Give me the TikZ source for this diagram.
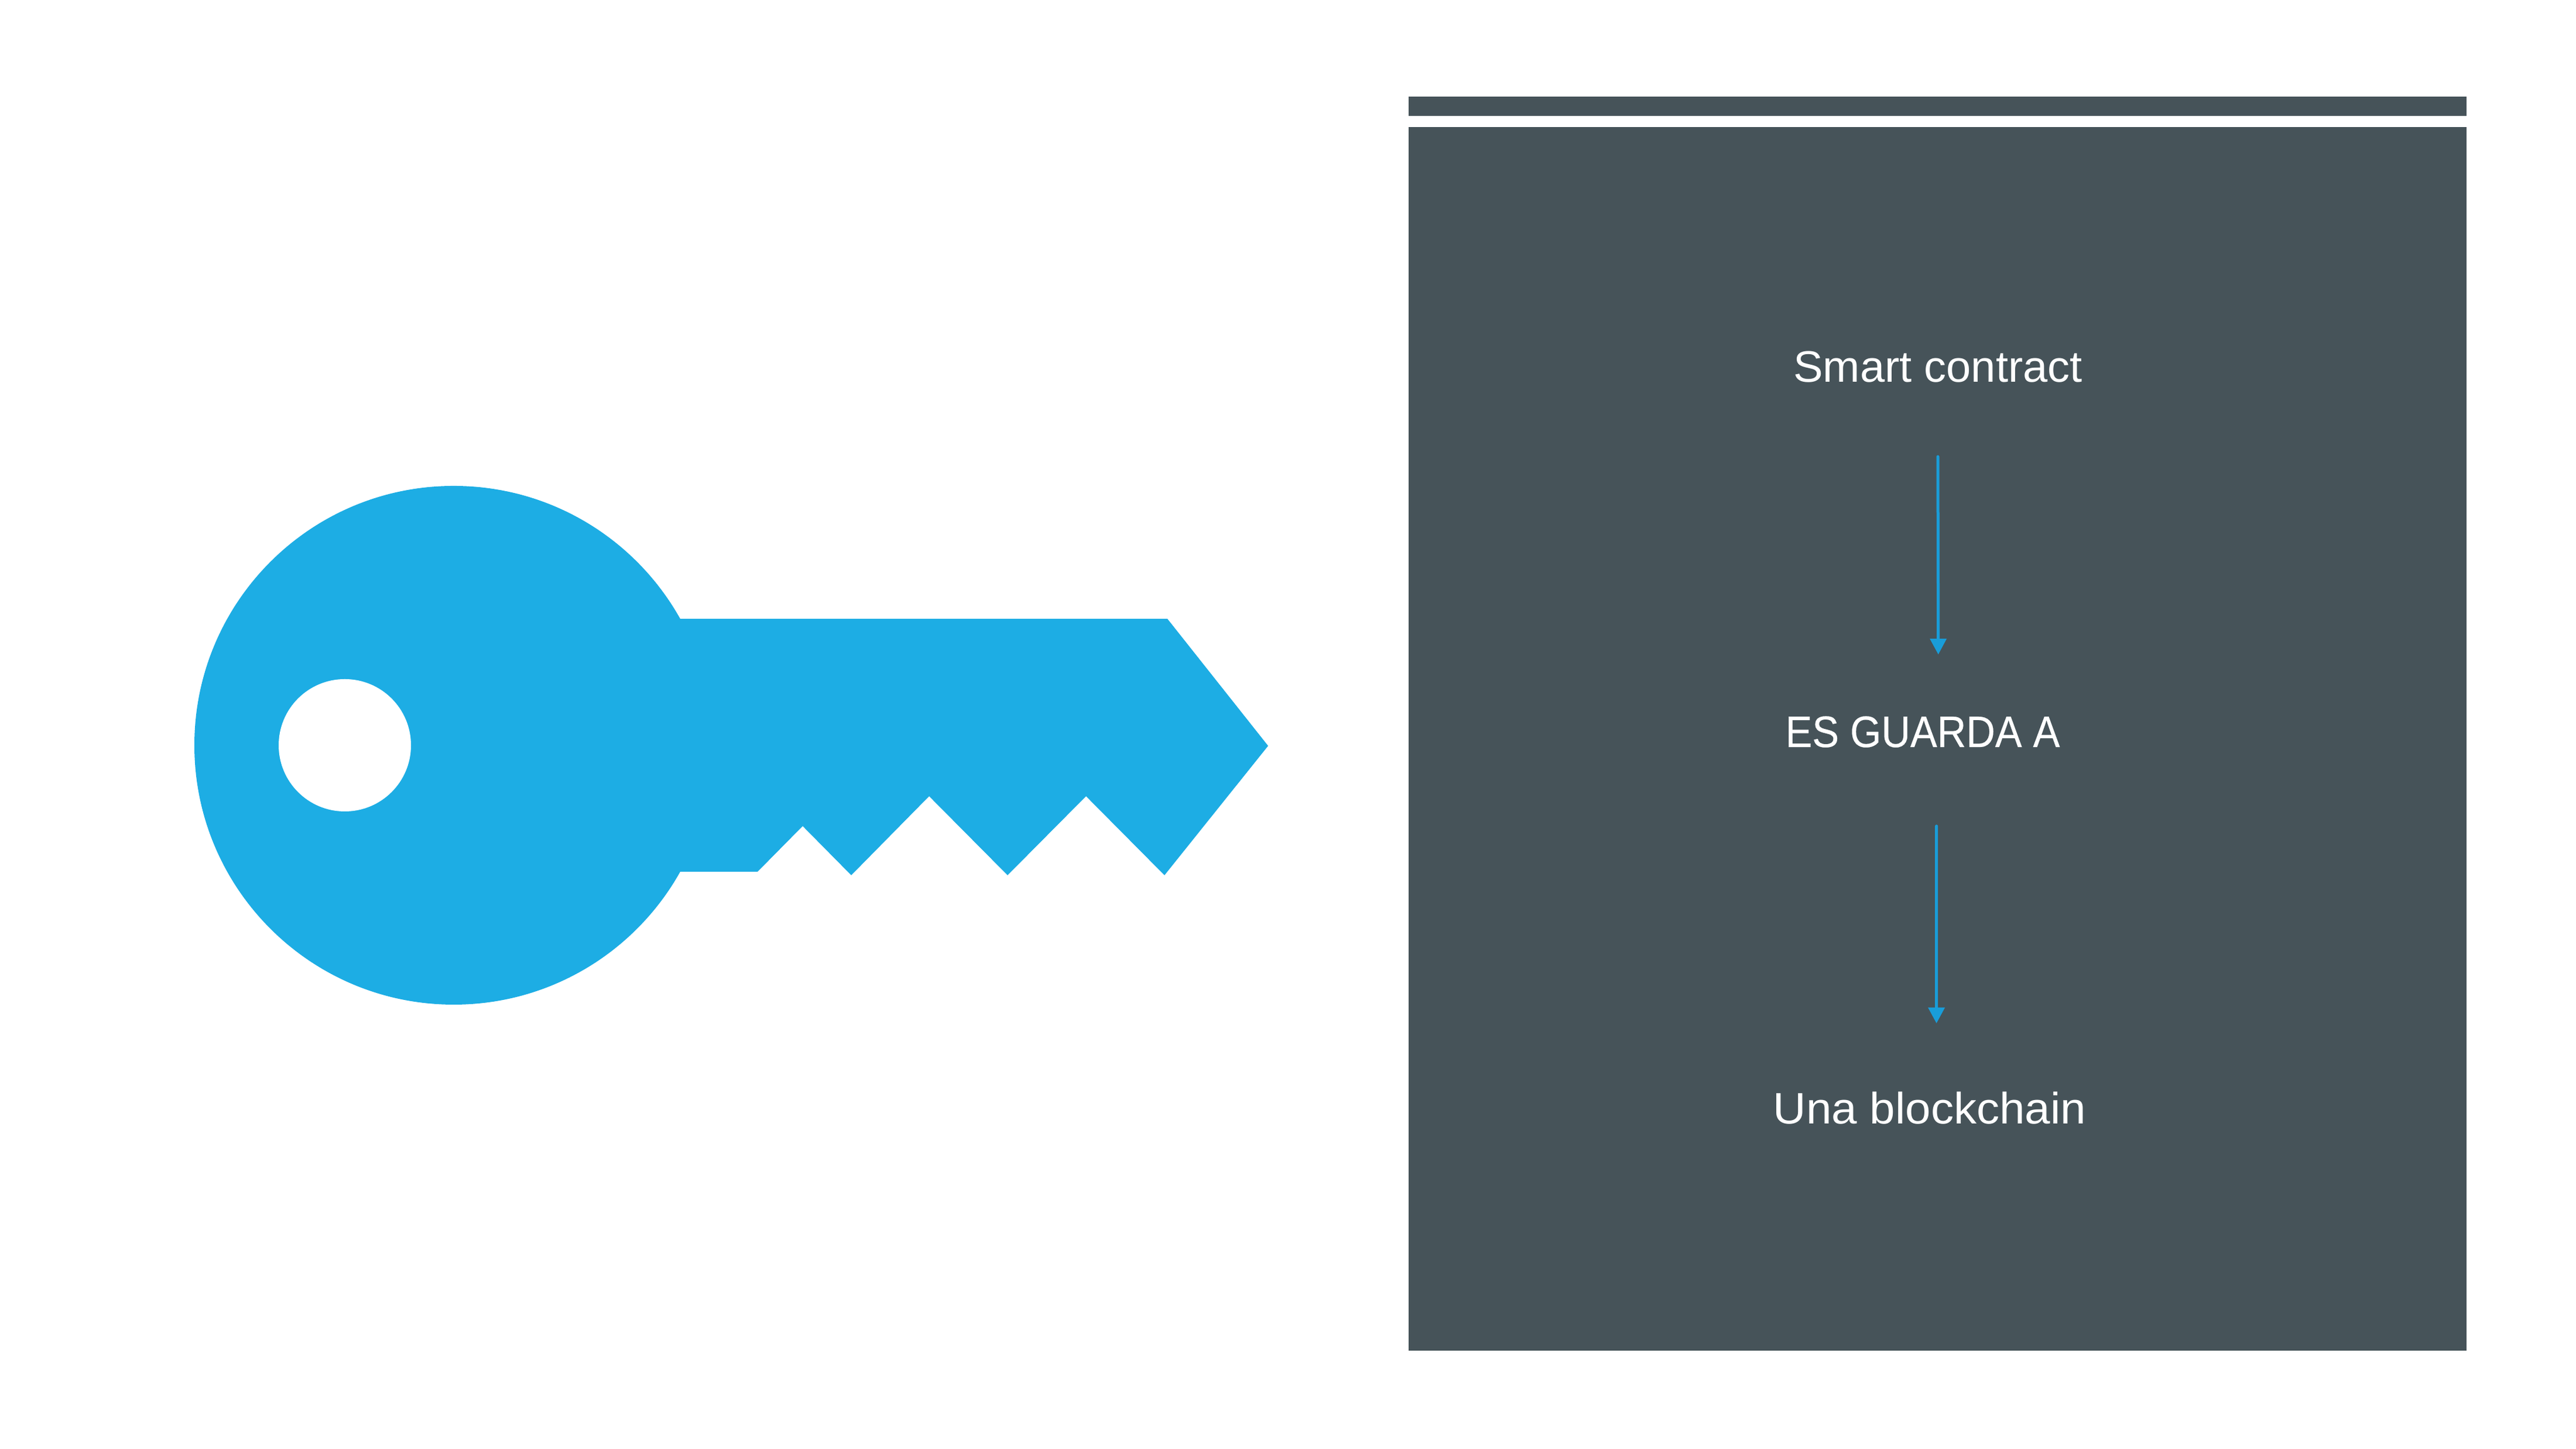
\documentclass[tikz,border=0pt]{standalone}
\usepackage{fontspec}
\setmainfont[FakeStretch=1.01]{Liberation Sans}
\newfontfamily\capsfont[FakeStretch=0.912,FakeBold=0.3]{Liberation Sans}
\newfontfamily\lowerfont[FakeStretch=1.04]{Liberation Sans}
\usepackage{tikz}
\usetikzlibrary{arrows.meta}
\definecolor{keyblue}{RGB}{29,173,228}
\definecolor{flowblue}{RGB}{25,157,217}
\definecolor{panelgray}{RGB}{70,83,89}
\tikzset{
  paneltext/.style={anchor=base, text=white, inner sep=0pt, font=\fontsize{21.4}{26}\selectfont},
  flowline/.style={flowblue, line width=0.05cm, line cap=round, -{Triangle[length=0.27cm, width=0.275cm]}}
}

\begin{document}
\begin{tikzpicture}
\useasboundingbox (0,0) rectangle (44,24.75);
% Key
\fill[keyblue] (7.75,12.02) circle (4.43);
\fill[keyblue] (11.6,14.18) -- (19.94,14.18) -- (21.66,12.01) -- (19.89,9.80) -- (18.55,11.15)
      -- (17.21,9.80) -- (15.87,11.15) -- (14.54,9.80) -- (13.71,10.64) -- (12.94,9.86) -- (11.6,9.86) -- cycle;
\fill[white] (5.89,12.02) circle (1.13);

% Panel
\fill[panelgray] (24.06,23.10) rectangle (42.13,22.77);
\fill[panelgray] (24.06,22.58) rectangle (42.13,1.68);

% Texts
\node[paneltext] (smart) at (33.10,18.22) {Smart contract};
\node[paneltext] (guarda) at (32.84,11.99) {\capsfont ES GUARDA A};
\node[paneltext] (una) at (32.96,5.55) {\lowerfont Una blockchain};

% Arrows
\draw[flowline] ([yshift=-12.7mm]smart.base) -- ([xshift=2.67mm,yshift=15.8mm]guarda.base);
\draw[flowline] ([xshift=2.36mm,yshift=-13.5mm]guarda.base) -- ([xshift=1.16mm,yshift=17.2mm]una.base);
\end{tikzpicture}
\end{document}
